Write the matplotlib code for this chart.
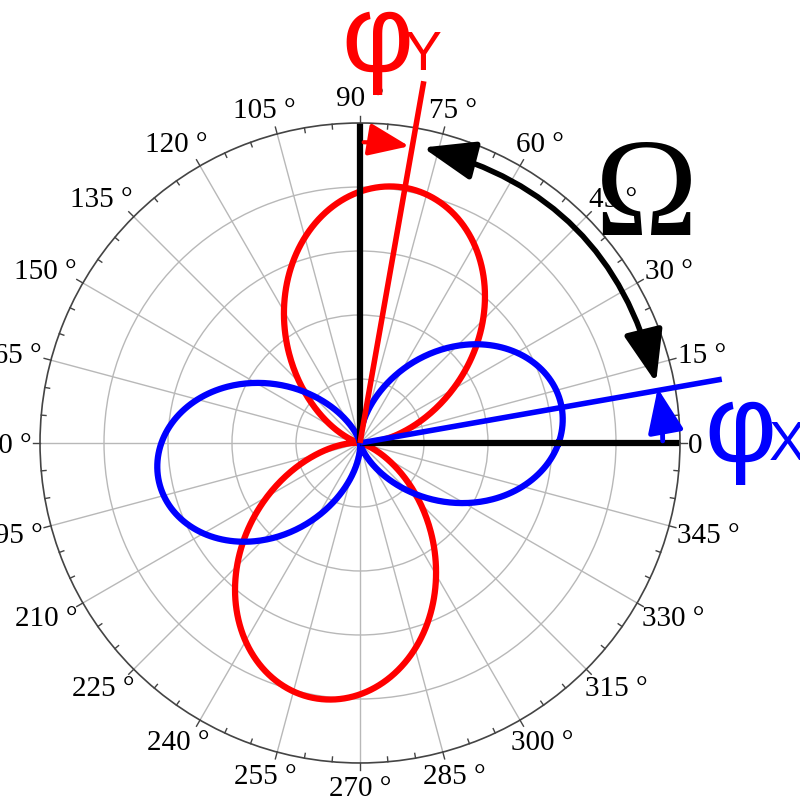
import numpy as np
import matplotlib.pyplot as plt
from matplotlib.patches import FancyArrowPatch
from matplotlib.transforms import ScaledTranslation

# lobe orientation (deg) and length on a 0-5 radial scale
phi_deg = [10, 80]            # phi_X, phi_Y
amp = [3.2, 4.05]
colors = ['#0000ff', '#ff0000']
names = ['X', 'Y']

angle_ticks = list(range(0, 360, 15))
tick_labels = ['{} °'.format(a) for a in angle_ticks]
rings = [1, 2, 3, 4]
r_max = 5

fig = plt.figure(figsize=(8, 8.05), dpi=100)
ax = fig.add_axes([0.05, 0.0522, 0.8, 0.795], projection='polar')
ax.set_ylim(0, r_max)
ax.set_thetagrids(angle_ticks, labels=[''] * len(angle_ticks))
ax.set_rgrids(rings, labels=[''] * len(rings))
ax.grid(color='#b8b8b8', lw=1)
ax.tick_params(length=0)
ax.spines['polar'].set_color('#444444')
ax.spines['polar'].set_linewidth(1.2)

# tick marks on the rim: 5 deg minor inward, 15 deg major outward
for a in range(0, 360, 5):
    t = np.radians(a)
    if a % 15 == 0:
        ax.plot([t, t], [r_max, r_max * 1.022], color='#444444', lw=1, clip_on=False)
    else:
        ax.plot([t, t], [r_max, r_max * 0.985], color='#444444', lw=1, clip_on=False)

# angle labels, anchored on their box so it slides round the rim
fs = 21
label_texts = []
for a, lab in zip(angle_ticks, tick_labels):
    label_texts.append(ax.text(np.radians(a), r_max, lab, ha='left', va='baseline',
                               fontsize=fs, family='Liberation Serif', clip_on=False))
fig.canvas.draw()
rend = fig.canvas.get_renderer()
hd = 0.68 * fs * fig.dpi / 72   # digit height in px
for txt, a in zip(label_texts, angle_ticks):
    w = txt.get_window_extent(rend).width
    c, s = np.cos(np.radians(a)), np.sin(np.radians(a))
    pad = 8 + 7 * abs(s) + 2 * s
    ox = pad * c - (1 - c) / 2 * w
    oy = pad * s - (1 - s) / 2 * hd + 10 * s * (1 - abs(s))
    txt.set_transform(ax.transData + ScaledTranslation(ox / fig.dpi, oy / fig.dpi,
                                                       fig.dpi_scale_trans))

# lobes
theta = np.radians(np.arange(0, 360.5, 0.5))
for p, a, c in zip(phi_deg[::-1], amp[::-1], colors[::-1]):
    ax.plot(theta, a * np.cos(theta - np.radians(p)) ** 2, color=c, lw=4.5)

# reference axes (0 and 90 deg) in black
ax.plot([0, 0], [0, r_max], color='k', lw=4.5, solid_capstyle='butt')
ax.plot([np.pi / 2] * 2, [0, r_max * 1.01], color='k', lw=4.5, solid_capstyle='butt')

# phi lines
for p, c in zip(phi_deg, colors):
    ax.plot([np.radians(p)] * 2, [0, r_max * 1.148], color=c, lw=4,
            solid_capstyle='butt', clip_on=False, zorder=4)


def arc_arrow(t0, t1, r, color, lw, style, hl, hw):
    rad = np.tan(np.radians(t1 - t0) / 4)
    arr = FancyArrowPatch((np.radians(t0), r), (np.radians(t1), r),
                          transform=ax.transData,
                          connectionstyle='arc3,rad={}'.format(rad),
                          arrowstyle='{},head_length={},head_width={}'.format(style, hl, hw),
                          mutation_scale=20, lw=lw, color=color,
                          shrinkA=0, shrinkB=0, clip_on=False, zorder=5)
    ax.add_artist(arr)


arc_arrow(phi_deg[1] - 2, phi_deg[0] + 1.5, 4.72, 'k', 4, '<|-|>', 1.6, 0.6)
arc_arrow(89.3, phi_deg[1] + 0.6, 4.7, colors[1], 3, '-|>', 1.25, 0.5)
arc_arrow(0.4, phi_deg[0] + 0.4, 4.73, colors[0], 3.5, '-|>', 1.35, 0.55)

# labels
fig.text(341 / 800, 1 - 72 / 805, 'φ', color=colors[1], fontsize=80,
         family='Liberation Sans', ha='left', va='baseline', zorder=6)
fig.text(405 / 800, 1 - 70 / 805, names[1], color=colors[1], fontsize=40,
         family='Liberation Sans', ha='left', va='baseline', zorder=6)
fig.text(704 / 800, 1 - 462 / 805, 'φ', color=colors[0], fontsize=80,
         family='Liberation Sans', ha='left', va='baseline', zorder=6)
fig.text(769 / 800, 1 - 460 / 805, names[0], color=colors[0], fontsize=40,
         family='Liberation Sans', ha='left', va='baseline', zorder=6)
fig.text(595 / 800, 1 - 235 / 805, 'Ω', color='k', fontsize=100,
         family='Liberation Serif', ha='left', va='baseline', zorder=6)

fig.savefig('out.png', dpi=100)
